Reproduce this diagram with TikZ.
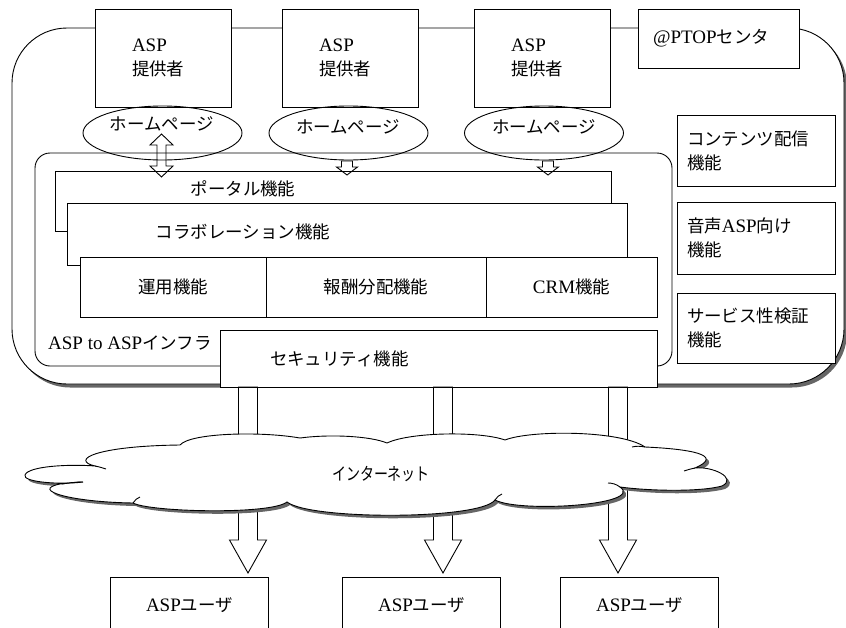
\documentclass[tikz,border=0pt]{standalone}
\usepackage{fontspec}
\setmainfont{Liberation Serif}
\newfontfamily\jpf{Noto Sans CJK JP}[Scale=0.92]
\newcommand\J[1]{{\jpf #1}}
\usetikzlibrary{shapes.geometric,calc}
\tikzset{
  ln/.style={line width=0.9pt},
  box/.style={ln,draw,fill=white,rectangle,inner sep=0pt},
  pbox/.style={box,minimum height=98pt,text width=62pt,inner xsep=37pt,align=left},
  rbox/.style={box,text width=138pt,inner xsep=10pt,align=left},
  fbox/.style={box,minimum height=60pt},
  ubox/.style={box,minimum width=158pt,minimum height=56pt},
  hp/.style={ln,draw,ellipse,minimum width=159pt,minimum height=54pt,inner sep=0pt},
  hollow/.style={ln,draw,line join=miter},
  shadowfill/.style={fill=black!60},
  hook/.style={ln,draw},
}
\newcommand\harrowD[5]{%
  \draw[hollow] let \p1=(#1), \p2=(#2) in
    (\x1-#3,\y1) -- (\x1-#3,\y2+#5) -- (\x1-#4,\y2+#5) -- (\x1,\y2)
    -- (\x1+#4,\y2+#5) -- (\x1+#3,\y2+#5) -- (\x1+#3,\y1) -- cycle;}
\newcommand\harrowDD[5]{%
  \draw[hollow] let \p1=(#1), \p2=(#2) in
    (\x1,\y1) -- (\x1+#4,\y1-#5) -- (\x1+#3,\y1-#5) -- (\x1+#3,\y2+#5)
    -- (\x1+#4,\y2+#5) -- (\x1,\y2) -- (\x1-#4,\y2+#5) -- (\x1-#3,\y2+#5)
    -- (\x1-#3,\y1-#5) -- (\x1-#4,\y1-#5) -- cycle;}
\newcommand\cloudpath{%
  (83,482) .. controls (60,485) and (22,482) .. (25,475)
  .. controls (28,466) and (70,464) .. (95,466)
  .. controls (70,460) and (95,446) .. (180,445)
  .. controls (190,433) and (260,431) .. (300,438)
  .. controls (330,434) and (370,436) .. (387,443)
  .. controls (410,432) and (480,431) .. (505,440)
  .. controls (530,430) and (620,430) .. (645,447)
  .. controls (690,449) and (725,455) .. (695,468)
  .. controls (712,466) and (738,478) .. (722,486)
  .. controls (700,492) and (650,491) .. (620,487)
  .. controls (645,505) and (520,513) .. (495,500)
  .. controls (480,520) and (310,520) .. (287,502)
  .. controls (270,515) and (150,512) .. (133,503)
  .. controls (70,502) and (30,490) .. (60,484)
  .. controls (70,483) and (78,482) .. (83,482) -- cycle}
\begin{document}
\begin{tikzpicture}[x=1pt,y=-1pt,font=\fontsize{19pt}{24pt}\selectfont]
\useasboundingbox (0,0) rectangle (846,627);
\clip (0,0) rectangle (846,627);

% outer @PTOP centre frame with shadow
\fill[shadowfill,rounded corners=55pt] (15,31) rectangle (847,387.5);
\node[ln,draw,fill=white,rectangle,rounded corners=55pt,minimum width=832pt,minimum height=356pt,inner sep=0pt] (outer) at (428,206) {};

% ASP providers
\node[pbox] (p1) at (163,58) {ASP\\\J{提供者}};
\node[pbox] (p2) at (350,58) {ASP\\\J{提供者}};
\node[pbox] (p3) at (542,58) {ASP\\\J{提供者}};
\node[box,minimum height=59pt,text width=131pt,inner xsep=15pt,align=left] (ptop) at (718.5,38.5) {@PTOP\J{センタ}};

% inner infrastructure frame
\node[ln,draw,rectangle,rounded corners=15pt,minimum width=637pt,minimum height=213pt,inner sep=0pt] (infra) at (353.5,259.5) {};
\node[anchor=west,inner sep=0pt] (infratxt) at (48,343) {ASP to ASP\J{インフラ}};

% homepage ellipses
\node[hp] (e1) at (162.5,133) {};
\node[hp] (e2) at (348.5,133) {};
\node[hp] (e3) at (544,133) {};
\node[inner sep=0pt] (e1t) at (162,124) {\J{ホームページ}};
\node[inner sep=0pt] (e2t) at (348,127) {\J{ホームページ}};
\node[inner sep=0pt] (e3t) at (544,127) {\J{ホームページ}};

% layered functions
\node[box,minimum width=556pt,minimum height=60pt] (portal) at (333,201) {};
\node[inner sep=0pt] (portaltxt) at (243,189) {\J{ポータル機能}};
\node[box,minimum width=560pt,minimum height=62pt] (collab) at (347,234) {};
\node[inner sep=0pt] (collabtxt) at (243,232) {\J{コラボレーション機能}};
\node[fbox,minimum width=186pt] (f1) at (173,287) {\J{運用機能}};
\node[fbox,minimum width=220pt] (f2) at (376,287) {\J{報酬分配機能}};
\node[fbox,minimum width=171pt] (f3) at (571.5,287) {CRM\J{機能}};
\node[box,minimum height=57pt,text width=337pt,inner xsep=50pt,align=left] (sec) at (438.5,358.5) {\J{セキュリティ機能}};

% right-side functions
\node[rbox,minimum height=71pt] (r1) at (756,150.5) {\J{コンテンツ配信}\\\J{機能}};
\node[rbox,minimum height=72pt] (r2) at (756,238) {\J{音声}ASP\J{向け}\\\J{機能}};
\node[rbox,minimum height=70pt] (r3) at (756,328) {\J{サービス性検証}\\\J{機能}};

% arrows homepage -> portal
\coordinate (a1t) at (161.5,134);
\coordinate (a1b) at (161.5,177);
\coordinate (a2t) at (347,161);
\coordinate (a2b) at (347,175);
\coordinate (a3t) at (548,161);
\coordinate (a3b) at (548,175);
\harrowDD{a1t}{a1b}{4.5pt}{11.5pt}{11pt}
\harrowD{a2t}{a2b}{5.5pt}{10.5pt}{8pt}
\harrowD{a3t}{a3b}{5.5pt}{10.5pt}{8pt}

% arrows security -> users
\coordinate (b1t) at (248,387);
\coordinate (b1b) at (248,573);
\coordinate (b2t) at (443,387);
\coordinate (b2b) at (443,573);
\coordinate (b3t) at (618,387);
\coordinate (b3b) at (618,573);
\harrowD{b1t}{b1b}{9.5pt}{18.5pt}{33pt}
\harrowD{b2t}{b2b}{9.5pt}{18.5pt}{33pt}
\harrowD{b3t}{b3b}{9.5pt}{18.5pt}{33pt}

% internet cloud with shadow
\fill[shadowfill,shift={(3,3)}] \cloudpath;
\path[ln,draw,fill=white] \cloudpath;
\draw[hook] (95,466) .. controls (100,467) and (103,468) .. (106,469);
\draw[hook] (645,447) .. controls (640,446) and (636,446) .. (632,447);
\draw[hook] (695,468) .. controls (690,469) and (687,470) .. (684,471);
\draw[hook] (620,487) .. controls (616,484) and (612,483) .. (608,483);
\draw[hook] (495,500) .. controls (497,497) and (499,495) .. (502,494);
\draw[hook] (133,503) .. controls (135,500) and (137,498) .. (140,497);
\draw[hook] (83,482) .. controls (75,482) and (68,483) .. (62,484);
\node[inner sep=0pt] (inet) at (381,474) {\scalebox{0.8}[1]{\J{インターネット}}};

% users
\node[ubox] (u1) at (189.5,605) {ASP\J{ユーザ}};
\node[ubox] (u2) at (421.5,605) {ASP\J{ユーザ}};
\node[ubox] (u3) at (639.5,605) {ASP\J{ユーザ}};
\end{tikzpicture}
\end{document}
